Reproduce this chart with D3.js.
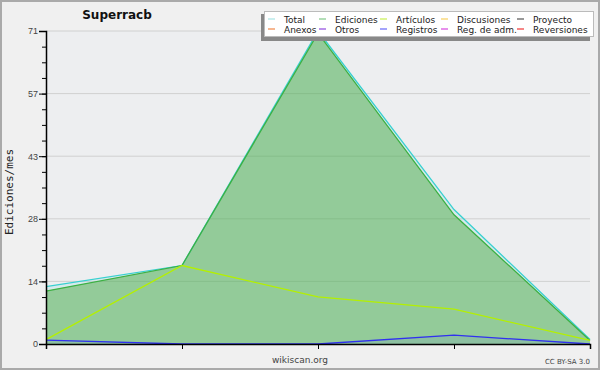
<!DOCTYPE html>
<html>
<head>
<meta charset="utf-8">
<script src="https://cdn.jsdelivr.net/npm/d3@7"></script>
<style>
  body { margin: 0; background: #f0f0f0; }
  svg { display: block; font-family: "DejaVu Sans", sans-serif; }
</style>
</head>
<body>
<svg id="chart"></svg>
<script>
// datos (5 meses)
const months = [0, 1, 2, 3, 4];
const total = [13, 17.8, 71, 30.5, 1];
const ediciones = [12, 17.8, 70.5, 29.3, 0.8];
const articulos = [1, 17.8, 10.7, 7.9, 0.8];
const registros = [0.9, 0, 0, 2, 0];
const yTicks = [0, 14.2, 28.4, 42.6, 56.8, 71];
const yTickLabels = ["0", "14", "28", "43", "57", "71"];
const legendNames = ["Total", "Ediciones", "Artículos", "Discusiones", "Proyecto",
                     "Anexos", "Otros", "Registros", "Reg. de adm.", "Reversiones"];
const legendColors = ["#a8e4e4", "#80c888", "#c8f050", "#f8d060", "#555555",
                      "#f08848", "#9048e0", "#6868f8", "#d848e0", "#f03838"];

const width = 600, height = 370;
const margin = {top: 31, right: 10, bottom: 26, left: 46};

const svg = d3.select("#chart").attr("width", width).attr("height", height);

// fondo y borde
svg.append("rect").attr("x", 1).attr("y", 1).attr("width", width - 2).attr("height", height - 2)
   .attr("fill", "#f0f0f0").attr("stroke", "#aaaaaa").attr("stroke-width", 2);

const x = d3.scaleLinear().domain([0, 4]).range([margin.left, width - margin.right]);
const y = d3.scaleLinear().domain([0, 71]).range([height - margin.bottom, margin.top]);

svg.append("rect")
   .attr("x", x(0)).attr("y", y(71))
   .attr("width", x(4) - x(0)).attr("height", y(0) - y(71))
   .attr("fill", "#edeef0");

// líneas de cuadrícula
svg.append("g").selectAll("line")
   .data(yTicks.slice(1))
   .enter().append("line")
   .attr("x1", x(0)).attr("x2", x(4))
   .attr("y1", d => y(d)).attr("y2", d => y(d))
   .attr("stroke", "#d0d0d0").attr("stroke-width", 1);

const area = vals => d3.area()
    .x((d, i) => x(months[i]))
    .y0(y(0))
    .y1(d => y(d))(vals);
const line = vals => d3.line()
    .x((d, i) => x(months[i]))
    .y(d => y(d))(vals);

// series
svg.append("path").attr("d", area(total)).attr("fill", "rgba(80,210,210,0.14)");
svg.append("path").attr("d", area(ediciones)).attr("fill", "rgba(79,172,70,0.5)");
svg.append("path").attr("d", area(registros)).attr("fill", "rgba(60,60,255,0.08)");

svg.append("path").attr("d", line(total)).attr("fill", "none")
   .attr("stroke", "#38d0d0").attr("stroke-width", 1.3);
svg.append("path").attr("d", line(ediciones)).attr("fill", "none")
   .attr("stroke", "#3cb043").attr("stroke-width", 1.3);
svg.append("path").attr("d", line(articulos)).attr("fill", "none")
   .attr("stroke", "#b4f000").attr("stroke-width", 1.3);
svg.append("path").attr("d", line(registros)).attr("fill", "none")
   .attr("stroke", "#3030f0").attr("stroke-width", 1.3);

// ejes
const minorTicks = d3.range(0, 21).map(i => i * 71 / 20);
svg.append("g")
   .attr("transform", `translate(${x(0)},0)`)
   .call(d3.axisLeft(y).tickValues(minorTicks).tickSize(4).tickFormat(""))
   .call(g => g.select(".domain").remove());

const yAxis = svg.append("g")
   .attr("transform", `translate(${x(0)},0)`)
   .call(d3.axisLeft(y).tickValues(yTicks).tickSize(7).tickPadding(1)
         .tickFormat((d, i) => yTickLabels[i]));
yAxis.select(".domain").attr("stroke", "#000").attr("stroke-width", 1.5);
yAxis.selectAll("text").attr("font-size", 9).attr("fill", "#444")
     .attr("font-family", "'Liberation Sans', sans-serif");

const xAxis = svg.append("g")
   .attr("transform", `translate(0,${y(0)})`)
   .call(d3.axisBottom(x).tickValues(months).tickSize(5).tickFormat(""));
xAxis.select(".domain").attr("stroke", "#000").attr("stroke-width", 1.5);

// títulos
svg.append("text")
   .attr("x", 117).attr("y", 19)
   .attr("text-anchor", "middle")
   .attr("font-size", 12).attr("font-weight", "bold").attr("fill", "#111")
   .text("Superracb");

svg.append("text")
   .attr("transform", "rotate(-90)")
   .attr("x", -192).attr("y", 13)
   .attr("text-anchor", "middle")
   .attr("font-family", "'DejaVu Sans Mono', monospace")
   .attr("font-size", 11).attr("fill", "#222")
   .text("Ediciones/mes");

svg.append("text")
   .attr("x", 300).attr("y", 363)
   .attr("text-anchor", "middle")
   .attr("font-size", 9).attr("fill", "#444")
   .text("wikiscan.org");

svg.append("text")
   .attr("x", 590).attr("y", 364)
   .attr("text-anchor", "end")
   .attr("font-size", 7).attr("fill", "#444")
   .text("CC BY-SA 3.0");

// leyenda
const lg = svg.append("g");
lg.append("rect").attr("x", 261).attr("y", 14).attr("width", 329).attr("height", 27)
  .attr("fill", "#888888");
lg.append("rect").attr("x", 264.5).attr("y", 11.5).attr("width", 329).attr("height", 25)
  .attr("fill", "#ffffff").attr("stroke", "#bbbbbb");

const colX = [268, 319, 380, 441, 517];
const items = lg.selectAll(".item")
   .data(legendNames)
   .enter().append("g")
   .attr("class", "item")
   .attr("transform", (d, i) => `translate(${colX[i % 5]},${i < 5 ? 19 : 29})`);
items.append("line")
   .attr("x1", 0).attr("x2", 7).attr("y1", 0).attr("y2", 0)
   .attr("stroke", (d, i) => legendColors[i]).attr("stroke-width", 1.2);
items.append("text")
   .attr("x", 16).attr("y", 3.5)
   .attr("font-size", 9).attr("fill", "#222")
   .text(d => d);
</script>
</body>
</html>
